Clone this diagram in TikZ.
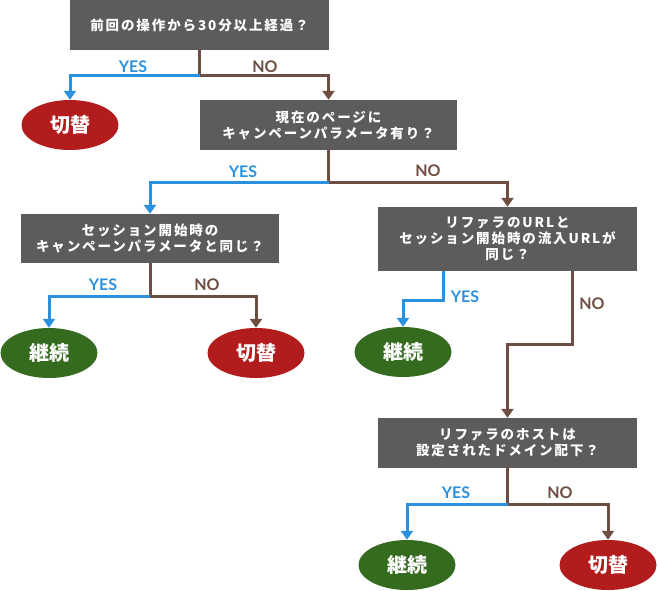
\documentclass[tikz,border=0pt]{standalone}
\usepackage{fontspec}
\setmainfont{Noto Sans CJK JP}
\newfontfamily\jp[LetterSpace=14]{Noto Sans CJK JP}
\newfontfamily\lab{Lato}
\usetikzlibrary{arrows.meta,calc,shapes.geometric}
\definecolor{boxgray}{HTML}{5C5C5C}
\definecolor{yesblue}{HTML}{2B90DE}
\definecolor{nobrown}{HTML}{6E4E42}
\definecolor{endred}{HTML}{B31C1C}
\definecolor{endgreen}{HTML}{356B1F}
\tikzset{
  qbox/.style={rectangle, fill=boxgray, text=white, minimum width=259pt, minimum height=50pt, inner sep=0pt, align=center, font=\jp\bfseries\fontsize{13.5}{16}\selectfont},
  endnode/.style={ellipse, minimum width=97pt, minimum height=50pt, inner sep=0pt, text=white, font=\bfseries\fontsize{20}{22}\selectfont},
  redend/.style={endnode, fill=endred},
  greenend/.style={endnode, fill=endgreen},
  conn/.style={line width=3pt, -{Triangle[width=12pt,length=9pt]}},
  yesline/.style={conn, draw=yesblue},
  noline/.style={conn, draw=nobrown},
  stem/.style={line width=3pt, draw=nobrown},
  yeslab/.style={text=yesblue, font=\lab\bfseries\fontsize{16}{18}\selectfont, inner sep=0pt},
  nolab/.style={text=nobrown, font=\lab\bfseries\fontsize{16}{18}\selectfont, inner sep=0pt},
}
\begin{document}
\begin{tikzpicture}[x=1pt,y=-1pt]
\useasboundingbox (0,0) rectangle (658,590);
% question boxes
\node[qbox] (b1) at (199.5,25) {前回の操作から30分以上経過？};
\node[qbox, minimum width=257pt] (b2) at (328.5,125) {現在のページに\\キャンペーンパラメータ有り？};
\node[qbox, minimum width=258pt, minimum height=49pt] (b3) at (150,238.5) {セッション開始時の\\キャンペーンパラメータと同じ？};
\node[qbox, minimum height=64pt] (b4) at (507.5,239) {リファラのURLと\\セッション開始時の流入URLが\\同じ？};
\node[qbox] (b5) at (507.5,443) {リファラのホストは\\設定されたドメイン配下？};
% end nodes
\node[redend] (e1) at (70,125) {切替};
\node[greenend] (e2) at (49,353) {継続};
\node[redend] (e3) at (256,353) {切替};
\node[greenend] (e4) at (403,352) {継続};
\node[greenend] (e5) at (407,565) {継続};
\node[redend] (e6) at (608,565) {切替};
% junctions
\coordinate (j1) at (199.5,75);
\coordinate (j2) at (328.5,182);
\coordinate (j3) at (150,296);
\coordinate (j5) at (507.5,504);
% connectors
\draw[stem] (b1.south) -- (j1);
\draw[yesline] (j1) -| (e1.north);
\draw[noline] (j1) -| (b2.north);
\draw[stem] (b2.south) -- (j2);
\draw[yesline] (j2) -| (b3.north);
\draw[noline] (j2) -| (b4.north);
\draw[stem] (b3.south) -- (j3);
\draw[yesline] (j3) -| (e2.north);
\draw[noline] (j3) -| (e3.north);
\draw[yesline] ([xshift=66pt]b4.south west) -- ++(0,29) -| (e4.north);
\draw[noline] ([xshift=-65pt]b4.south east) -- ++(0,73) -| (b5.north);
\draw[stem] (b5.south) -- (j5);
\draw[yesline] (j5) -| (e5.north);
\draw[noline] (j5) -| (e6.north);
% labels
\node[yeslab] (l1) at (133,67) {YES};
\node[nolab] (l2) at (265,67) {NO};
\node[yeslab] (l3) at (243,172) {YES};
\node[nolab] (l4) at (428,171) {NO};
\node[yeslab] (l5) at (103,285) {YES};
\node[nolab] (l6) at (207,285) {NO};
\node[yeslab] (l7) at (465,297) {YES};
\node[nolab] (l8) at (592,304) {NO};
\node[yeslab] (l9) at (456,493) {YES};
\node[nolab] (l10) at (560,493) {NO};
\end{tikzpicture}
\end{document}
